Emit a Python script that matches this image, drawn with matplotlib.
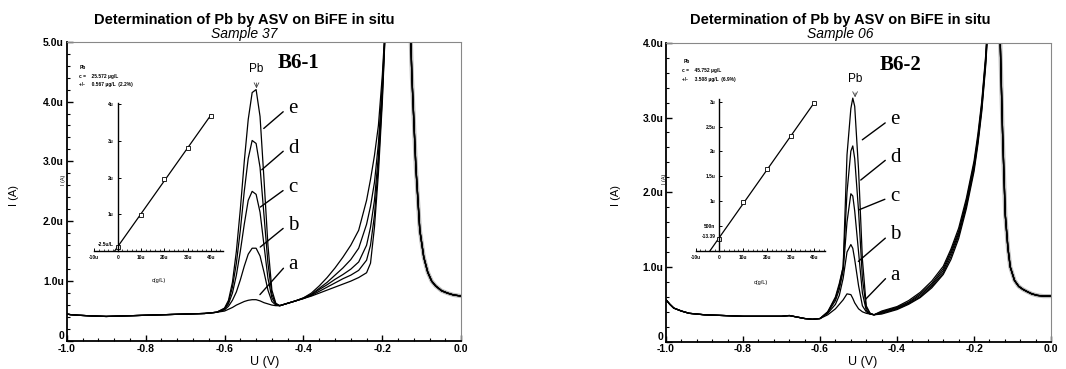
import numpy as np
import matplotlib
matplotlib.use("Agg")
import matplotlib.pyplot as plt
from matplotlib.ticker import FixedLocator, MultipleLocator

# ---------------- data ----------------
labels = ["a", "b", "c", "d", "e"]

# left panel (Sample 37, B6-1)
L_base_V = [-1.0, -0.99, -0.97, -0.94, -0.90, -0.85, -0.80, -0.75, -0.70, -0.65, -0.62]
L_base_I = [0.45, 0.44, 0.43, 0.42, 0.41, 0.42, 0.43, 0.44, 0.45, 0.46, 0.48]

L_pb_V = [-0.60, -0.59, -0.58, -0.57, -0.56, -0.55, -0.54, -0.53, -0.52, -0.51, -0.50, -0.49, -0.48, -0.47, -0.46]
L_pb_I = {
    "a": [0.50, 0.53, 0.56, 0.60, 0.63, 0.66, 0.68, 0.69, 0.69, 0.67, 0.64, 0.62, 0.60, 0.59, 0.59],
    "b": [0.52, 0.58, 0.68, 0.82, 1.02, 1.25, 1.45, 1.55, 1.55, 1.42, 1.15, 0.85, 0.66, 0.60, 0.59],
    "c": [0.53, 0.62, 0.80, 1.10, 1.50, 1.95, 2.35, 2.50, 2.45, 2.15, 1.60, 1.05, 0.72, 0.61, 0.59],
    "d": [0.54, 0.65, 0.90, 1.30, 1.85, 2.50, 3.05, 3.35, 3.30, 2.90, 2.10, 1.30, 0.78, 0.62, 0.59],
    "e": [0.55, 0.68, 0.98, 1.50, 2.20, 3.00, 3.70, 4.15, 4.20, 3.75, 2.70, 1.60, 0.85, 0.63, 0.59],
}

L_sh_V = [-0.44, -0.42, -0.40, -0.38, -0.36, -0.34, -0.32, -0.30, -0.28, -0.26, -0.24, -0.23, -0.22, -0.21, -0.20, -0.19]
L_sh_I = {
    "a": [0.63, 0.67, 0.71, 0.75, 0.80, 0.85, 0.90, 0.95, 1.00, 1.06, 1.14, 1.30, 1.90, 2.80, 4.00, 5.60],
    "b": [0.63, 0.67, 0.71, 0.76, 0.83, 0.90, 0.97, 1.04, 1.10, 1.18, 1.35, 1.60, 2.10, 2.95, 4.10, 5.60],
    "c": [0.63, 0.67, 0.71, 0.77, 0.86, 0.94, 1.03, 1.11, 1.20, 1.32, 1.60, 1.90, 2.35, 3.10, 4.20, 5.60],
    "d": [0.63, 0.67, 0.72, 0.78, 0.88, 0.98, 1.10, 1.22, 1.36, 1.55, 1.95, 2.25, 2.65, 3.30, 4.30, 5.60],
    "e": [0.63, 0.67, 0.72, 0.80, 0.92, 1.06, 1.22, 1.40, 1.60, 1.85, 2.35, 2.70, 3.10, 3.60, 4.45, 5.60],
}

L_big_V = [-0.17, -0.15, -0.135, -0.125, -0.115, -0.105, -0.095, -0.085, -0.075, -0.065, -0.05, -0.035, -0.02, 0.0]
L_big_I = [8.5, 8.5, 6.5, 4.4, 2.9, 1.85, 1.40, 1.15, 1.00, 0.92, 0.84, 0.80, 0.77, 0.75]

# right panel (Sample 06, B6-2)
R_base_V = [-1.0, -0.99, -0.98, -0.96, -0.94, -0.90, -0.85, -0.80, -0.75, -0.70, -0.68, -0.66, -0.64, -0.62]
R_base_I = [0.56, 0.50, 0.45, 0.41, 0.38, 0.36, 0.35, 0.34, 0.34, 0.34, 0.35, 0.33, 0.31, 0.30]

R_pb_V = [-0.60, -0.58, -0.56, -0.55, -0.54, -0.53, -0.52, -0.515, -0.51, -0.50, -0.49, -0.48, -0.47, -0.46]
R_pb_I = {
    "a": [0.31, 0.36, 0.44, 0.50, 0.56, 0.64, 0.63, 0.58, 0.52, 0.44, 0.40, 0.38, 0.37, 0.36],
    "b": [0.31, 0.38, 0.50, 0.62, 0.85, 1.20, 1.30, 1.25, 1.10, 0.75, 0.48, 0.40, 0.37, 0.36],
    "c": [0.31, 0.39, 0.55, 0.70, 0.95, 1.60, 1.98, 1.95, 1.75, 1.20, 0.65, 0.42, 0.37, 0.36],
    "d": [0.31, 0.40, 0.58, 0.75, 1.00, 2.00, 2.55, 2.62, 2.45, 1.75, 0.85, 0.45, 0.38, 0.36],
    "e": [0.31, 0.40, 0.60, 0.78, 1.00, 2.50, 3.12, 3.26, 3.15, 2.30, 1.10, 0.48, 0.38, 0.36],
}

R_sh_V = [-0.44, -0.42, -0.40, -0.37, -0.34, -0.31, -0.28, -0.26, -0.24, -0.22, -0.20, -0.19, -0.18, -0.17, -0.16]
R_sh_I = {
    "a": [0.37, 0.40, 0.43, 0.50, 0.59, 0.72, 0.90, 1.10, 1.38, 1.78, 2.28, 2.64, 3.08, 3.68, 4.50],
    "b": [0.38, 0.41, 0.44, 0.51, 0.60, 0.74, 0.92, 1.14, 1.42, 1.82, 2.32, 2.68, 3.12, 3.72, 4.55],
    "c": [0.39, 0.42, 0.45, 0.52, 0.62, 0.76, 0.95, 1.18, 1.45, 1.85, 2.35, 2.70, 3.15, 3.75, 4.60],
    "d": [0.40, 0.43, 0.46, 0.53, 0.64, 0.78, 0.98, 1.21, 1.48, 1.88, 2.38, 2.73, 3.18, 3.78, 4.65],
    "e": [0.41, 0.44, 0.47, 0.55, 0.66, 0.81, 1.01, 1.24, 1.52, 1.92, 2.42, 2.78, 3.22, 3.82, 4.70],
}

R_big_V = [-0.15, -0.14, -0.132, -0.126, -0.119, -0.112, -0.106, -0.095, -0.084, -0.073, -0.062, -0.05, -0.036, -0.02, 0.0]
R_big_I = [7.0, 7.0, 4.0, 2.8, 1.7, 1.25, 1.00, 0.82, 0.74, 0.70, 0.67, 0.64, 0.62, 0.61, 0.61]

# standard-addition insets: added conc. vs. peak current (uA)
L_add_c = [0, 10, 20, 30, 40]
L_add_I = [0.11, 0.97, 1.96, 2.82, 3.69]
R_add_c = [0, 10, 20, 30, 40]
R_add_I = [0.23, 0.99, 1.64, 2.30, 2.97]

L_info = ["Pb", "c =    25.572 µg/L", "+/-     0.567 µg/L  (2.2%)"]
R_info = ["Pb", "c =    45.752 µg/L", "+/-     3.508 µg/L  (6.9%)"]

# letter label positions (text, arrow tip) in data coords
L_lab = {"e": ((-0.426, 3.88), (-0.506, 3.52)), "d": ((-0.426, 3.22), (-0.511, 2.83)),
         "c": ((-0.426, 2.56), (-0.515, 2.21)), "b": ((-0.426, 1.93), (-0.515, 1.54)),
         "a": ((-0.426, 1.27), (-0.515, 0.74))}
R_lab = {"e": ((-0.405, 2.97), (-0.496, 2.68)), "d": ((-0.405, 2.47), (-0.500, 2.14)),
         "c": ((-0.405, 1.94), (-0.506, 1.75)), "b": ((-0.405, 1.43), (-0.506, 1.05)),
         "a": ((-0.405, 0.89), (-0.487, 0.54))}

plt.rcParams["font.family"] = ["Liberation Sans", "DejaVu Sans"]
fig = plt.figure(figsize=(10.66, 3.69), dpi=100)


def main_axes(rect, ymax, title_x, sub, xlab_x, ylab_x):
    ax = fig.add_axes(rect)
    ax.set_xlim(-1.0, 0.0)
    ax.set_ylim(0, ymax)
    ax.xaxis.set_major_locator(FixedLocator([-1.0, -0.8, -0.6, -0.4, -0.2, 0.0]))
    ax.xaxis.set_minor_locator(MultipleLocator(0.04))
    ax.set_xticklabels(["-1.0", "-0.8", "-0.6", "-0.4", "-0.2", "0.0"])
    yt = np.arange(0, ymax + 0.01, 1.0)
    ax.yaxis.set_major_locator(FixedLocator(yt))
    ax.yaxis.set_minor_locator(MultipleLocator(0.2))
    ax.set_yticklabels(["0"] + [f"{v:.1f}u" for v in yt[1:]])
    ax.tick_params(which="both", direction="in", top=False, right=False, labelsize=7.5, pad=2)
    ax.tick_params(which="major", length=4, width=1)
    ax.tick_params(which="minor", length=2.5, width=0.8)
    for lab in ax.get_xticklabels() + ax.get_yticklabels():
        lab.set_fontweight("bold")
    ax.get_yticklabels()[0].set_va("bottom")
    for s in ["top", "right"]:
        ax.spines[s].set_linestyle((0, (1, 1)))
        ax.spines[s].set_color("#888888")
        ax.spines[s].set_linewidth(0.8)
    for s in ["left", "bottom"]:
        ax.spines[s].set_linewidth(1.3)
    fig.text(title_x, 0.945, "Determination of Pb by ASV on BiFE in situ", ha="center",
             va="center", fontsize=10.5, fontweight="bold")
    fig.text(title_x, 0.908, sub, ha="center", va="center", fontsize=10, style="italic")
    fig.text(xlab_x, 0.018, "U (V)", ha="center", va="center", fontsize=9)
    fig.text(ylab_x, 0.47, "I (A)", ha="center", va="center", fontsize=8, rotation=90)
    return ax


def draw_curves(ax, bV, bI, pV, pI, sV, sI, gV, gI):
    for k in labels:
        V = bV + pV + sV + gV
        I = bI + pI[k] + sI[k] + gI
        ax.plot(V, I, color="black", lw=0.9)
    ax.plot(gV, gI, color="#777777", lw=3.0, alpha=0.5, zorder=1)


def add_labels(ax, lab, pb_xy, pb_tip, tag, tag_xy):
    for k, (txt, tip) in lab.items():
        ax.annotate("", xy=tip, xytext=(txt[0] - 0.02, txt[1] - 0.02),
                    arrowprops=dict(arrowstyle="-", lw=1.0, color="black"))
        ax.text(txt[0], txt[1], k, ha="center", va="center", fontsize=15,
                family="Liberation Serif")
    ax.annotate("Pb", xy=pb_tip, xytext=pb_xy, ha="center", va="center", fontsize=8.5,
                arrowprops=dict(arrowstyle="->", lw=0.6, color="#444444", shrinkA=4, shrinkB=0))
    ax.text(tag_xy[0], tag_xy[1], tag, ha="center", va="center", fontsize=15,
            fontweight="bold", family="Liberation Serif")


def inset(rect, c, I, xmax, ymax, yt, ytl, info, info_xy, int_lab):
    ax = fig.add_axes(rect)
    ax.set_xlim(-10, xmax)
    ax.set_ylim(-0.15, ymax)
    ax.patch.set_alpha(0)
    for s in ["top", "right"]:
        ax.spines[s].set_visible(False)
    ax.spines["left"].set_position(("data", 0))
    ax.spines["bottom"].set_position(("data", 0))
    ax.spines["left"].set_linewidth(1.0)
    ax.spines["bottom"].set_linewidth(1.0)
    ax.spines["left"].set_bounds(0, ymax)
    ax.set_xticks([-10, 0, 10, 20, 30, 40])
    ax.set_xticklabels(["-10u", "0", "10u", "20u", "30u", "40u"])
    ax.set_yticks(yt)
    ax.set_yticklabels(ytl)
    ax.xaxis.set_minor_locator(MultipleLocator(2))
    ax.tick_params(which="both", direction="in", labelsize=3.5, pad=3)
    ax.tick_params(which="major", length=2.5, width=0.7)
    ax.tick_params(which="minor", length=1.2, width=0.5)
    for lab in ax.get_xticklabels() + ax.get_yticklabels():
        lab.set_fontweight("bold")
    slope, icpt = np.polyfit(c, I, 1)
    x0 = -icpt / slope
    ax.plot([x0, c[-1]], [0, slope * c[-1] + icpt], color="black", lw=0.9)
    ax.plot(c, I, "s", ms=2.2, mfc="white", mec="black", mew=0.6)
    ax.text(-1.5, I[0] + 0.05, int_lab, ha="right", va="center", fontsize=3.5, fontweight="bold")
    ax.set_ylabel("I (A)", fontsize=4, labelpad=14)
    ax.yaxis.set_label_coords(-0.22, 0.5)
    ax.set_xlabel("c(g/L)", fontsize=4)
    ax.xaxis.set_label_coords(0.5, -0.14)
    for i, t in enumerate(info):
        fig.text(info_xy[0] if i == 0 else info_xy[0] - 0.001, info_xy[1] - i * 0.024,
                 t, fontsize=3.5, fontweight="bold", va="center")
    return ax


axL = main_axes([0.0626, 0.0759, 0.3701, 0.8111], 5.0, 0.229, "Sample 37", 0.2485, 0.013)
draw_curves(axL, L_base_V, L_base_I, L_pb_V, L_pb_I, L_sh_V, L_sh_I, L_big_V, L_big_I)
add_labels(axL, L_lab, (-0.519, 4.55), (-0.519, 4.22), "B6-1", (-0.412, 4.64))

axR = main_axes([0.6248, 0.0740, 0.3612, 0.8100], 4.0, 0.788, "Sample 06", 0.8095, 0.578)
draw_curves(axR, R_base_V, R_base_I, R_pb_V, R_pb_I, R_sh_V, R_sh_I, R_big_V, R_big_I)
add_labels(axR, R_lab, (-0.509, 3.52), (-0.509, 3.27), "B6-2", (-0.392, 3.70))

inset([0.0885, 0.3057, 0.1204, 0.4165], L_add_c, L_add_I, 45, 4.05,
      [1, 2, 3, 4], ["1u", "2u", "3u", "4u"], L_info, (0.075, 0.818), "-2.5u/L")
inset([0.6526, 0.3004, 0.1214, 0.4308], R_add_c, R_add_I, 44.5, 3.05,
      [0.5, 1.0, 1.5, 2.0, 2.5, 3.0], ["500n", "1u", "1.5u", "2u", "2.5u", "3u"],
      R_info, (0.641, 0.832), "-13.39")

fig.savefig("out.png", dpi=100)
